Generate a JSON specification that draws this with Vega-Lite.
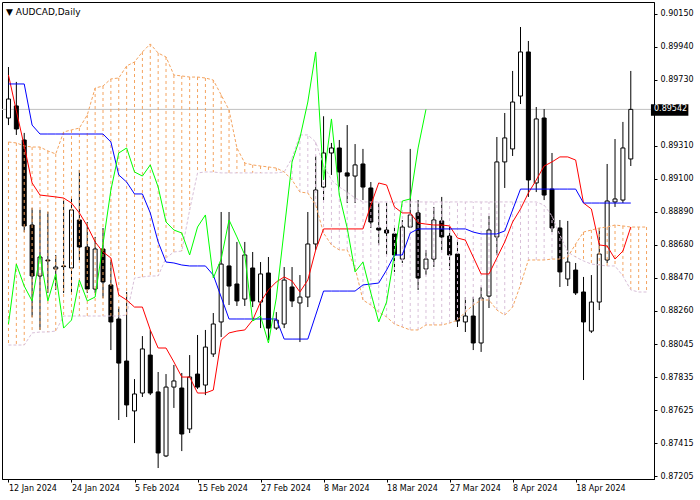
{
"$schema": "https://vega.github.io/schema/vega-lite/v6.json",
"width": 652, "height": 477,
"autosize": {"type": "none"},
"padding": {"left": 2, "top": 2, "right": 46, "bottom": 21},
"background": "white",
"title": {"text": "▼  AUDCAD,Daily", "anchor": "start", "frame": "group", "offset": -15, "dx": 4, "font": "DejaVu Sans", "fontSize": 9, "fontWeight": "normal", "color": "black"},
"config": {"view": {"stroke": "black", "strokeWidth": 1},
  "axis": {"labelFont": "DejaVu Sans", "labelFontSize": 8, "labelColor": "black", "tickColor": "black", "domainColor": "black", "tickSize": 3, "grid": false, "labelOverlap": false}},
"resolve": {"axis": {"x": "independent", "y": "independent"}},
"data": {"values": [
{"i":0,"o":0.89487,"h":0.89812,"l":0.89442,"c":0.89608,"tk":0.89761,"kj":0.89704,"ch":0.88174,"sa":0.89334,"sb":0.88040},
{"i":1,"o":0.89564,"h":0.89717,"l":0.89379,"c":0.89417,"tk":0.89532,"kj":0.89704,"ch":0.88556,"sa":0.89328,"sb":0.88040},
{"i":2,"o":0.89347,"h":0.89392,"l":0.88760,"c":0.88799,"tk":0.89309,"kj":0.89704,"ch":0.88416,"sa":0.89309,"sb":0.88040},
{"i":3,"o":0.88805,"h":0.88913,"l":0.88219,"c":0.88480,"tk":0.89073,"kj":0.89442,"ch":0.88321,"sa":0.89302,"sb":0.88117},
{"i":4,"o":0.88480,"h":0.88901,"l":0.88136,"c":0.88601,"tk":0.88996,"kj":0.89385,"ch":0.88614,"sa":0.89302,"sb":0.88123},
{"i":5,"o":0.88582,"h":0.88888,"l":0.88372,"c":0.88576,"tk":0.88990,"kj":0.89385,"ch":0.88321,"sa":0.89277,"sb":0.88123},
{"i":6,"o":0.88525,"h":0.88614,"l":0.88391,"c":0.88537,"tk":0.88984,"kj":0.89385,"ch":0.88493,"sa":0.89258,"sb":0.88129},
{"i":7,"o":0.88544,"h":0.88964,"l":0.88372,"c":0.88540,"tk":0.88977,"kj":0.89385,"ch":0.88148,"sa":0.89398,"sb":0.88225},
{"i":8,"o":0.88531,"h":0.88984,"l":0.88372,"c":0.88901,"tk":0.88945,"kj":0.89385,"ch":0.88199,"sa":0.89411,"sb":0.88225},
{"i":9,"o":0.88837,"h":0.89156,"l":0.88582,"c":0.88665,"tk":0.88882,"kj":0.89385,"ch":0.88454,"sa":0.89423,"sb":0.88225},
{"i":10,"o":0.88665,"h":0.88824,"l":0.88372,"c":0.88397,"tk":0.88799,"kj":0.89385,"ch":0.88321,"sa":0.89506,"sb":0.88225},
{"i":11,"o":0.88397,"h":0.88729,"l":0.88372,"c":0.88652,"tk":0.88697,"kj":0.89385,"ch":0.88346,"sa":0.89678,"sb":0.88225},
{"i":12,"o":0.88652,"h":0.88786,"l":0.88340,"c":0.88442,"tk":0.88633,"kj":0.89385,"ch":0.88684,"sa":0.89691,"sb":0.88225},
{"i":13,"o":0.88423,"h":0.88582,"l":0.88008,"c":0.88187,"tk":0.88595,"kj":0.89334,"ch":0.89028,"sa":0.89736,"sb":0.88225},
{"i":14,"o":0.88206,"h":0.88282,"l":0.87562,"c":0.87925,"tk":0.88359,"kj":0.89124,"ch":0.89264,"sa":0.89742,"sb":0.88225},
{"i":15,"o":0.87938,"h":0.88378,"l":0.87581,"c":0.87658,"tk":0.88327,"kj":0.89079,"ch":0.89296,"sa":0.89819,"sb":0.88231},
{"i":16,"o":0.87620,"h":0.87823,"l":0.87415,"c":0.87728,"tk":0.88282,"kj":0.89003,"ch":0.89143,"sa":0.89844,"sb":0.88467},
{"i":17,"o":0.87734,"h":0.88097,"l":0.87709,"c":0.88015,"tk":0.88282,"kj":0.89003,"ch":0.89117,"sa":0.89908,"sb":0.88474},
{"i":18,"o":0.87976,"h":0.88136,"l":0.87721,"c":0.87734,"tk":0.88136,"kj":0.88882,"ch":0.89188,"sa":0.89959,"sb":0.88480},
{"i":19,"o":0.87741,"h":0.87868,"l":0.87256,"c":0.87352,"tk":0.88021,"kj":0.88697,"ch":0.89047,"sa":0.89901,"sb":0.88480},
{"i":20,"o":0.87333,"h":0.87855,"l":0.87326,"c":0.87772,"tk":0.88021,"kj":0.88569,"ch":0.88824,"sa":0.89876,"sb":0.88595},
{"i":21,"o":0.87772,"h":0.87913,"l":0.87639,"c":0.87811,"tk":0.87932,"kj":0.88563,"ch":0.88773,"sa":0.89761,"sb":0.88633},
{"i":22,"o":0.87766,"h":0.87862,"l":0.87364,"c":0.87473,"tk":0.87836,"kj":0.88550,"ch":0.88754,"sa":0.89755,"sb":0.88639},
{"i":23,"o":0.87505,"h":0.87976,"l":0.87479,"c":0.87836,"tk":0.87836,"kj":0.88544,"ch":0.88614,"sa":0.89748,"sb":0.88901},
{"i":24,"o":0.87855,"h":0.88104,"l":0.87760,"c":0.87772,"tk":0.87734,"kj":0.88544,"ch":0.88792,"sa":0.89748,"sb":0.89137},
{"i":25,"o":0.87785,"h":0.88136,"l":0.87721,"c":0.88027,"tk":0.87734,"kj":0.88544,"ch":0.88869,"sa":0.89742,"sb":0.89143},
{"i":26,"o":0.87983,"h":0.88244,"l":0.87964,"c":0.88174,"tk":0.87753,"kj":0.88486,"ch":0.88467,"sa":0.89729,"sb":0.89143},
{"i":27,"o":0.88187,"h":0.88888,"l":0.88091,"c":0.88556,"tk":0.88072,"kj":0.88346,"ch":0.88588,"sa":0.89634,"sb":0.89137},
{"i":28,"o":0.88544,"h":0.88888,"l":0.88295,"c":0.88416,"tk":0.88117,"kj":0.88206,"ch":0.88837,"sa":0.89538,"sb":0.89137},
{"i":29,"o":0.88429,"h":0.88697,"l":0.88289,"c":0.88321,"tk":0.88129,"kj":0.88206,"ch":0.88729,"sa":0.89296,"sb":0.89137},
{"i":30,"o":0.88333,"h":0.88697,"l":0.88289,"c":0.88614,"tk":0.88136,"kj":0.88206,"ch":0.88614,"sa":0.89200,"sb":0.89137},
{"i":31,"o":0.88531,"h":0.88633,"l":0.88282,"c":0.88321,"tk":0.88199,"kj":0.88206,"ch":0.88193,"sa":0.89188,"sb":0.89137},
{"i":32,"o":0.88314,"h":0.88569,"l":0.88148,"c":0.88493,"tk":0.88314,"kj":0.88206,"ch":0.88225,"sa":0.89181,"sb":0.89137},
{"i":33,"o":0.88499,"h":0.88601,"l":0.88072,"c":0.88148,"tk":0.88391,"kj":0.88206,"ch":0.88053,"sa":0.89175,"sb":0.89137},
{"i":34,"o":0.88148,"h":0.88250,"l":0.88136,"c":0.88199,"tk":0.88442,"kj":0.88206,"ch":0.88340,"sa":0.89168,"sb":0.89137},
{"i":35,"o":0.88174,"h":0.88537,"l":0.88148,"c":0.88454,"tk":0.88474,"kj":0.88078,"ch":0.88773,"sa":0.89143,"sb":0.89143},
{"i":36,"o":0.88410,"h":0.88537,"l":0.88282,"c":0.88321,"tk":0.88448,"kj":0.88078,"ch":0.89207,"sa":0.89092,"sb":0.89232},
{"i":37,"o":0.88308,"h":0.88486,"l":0.88059,"c":0.88346,"tk":0.88378,"kj":0.88078,"ch":0.89360,"sa":0.89015,"sb":0.89379},
{"i":38,"o":0.88346,"h":0.88888,"l":0.88282,"c":0.88684,"tk":0.88454,"kj":0.88078,"ch":0.89589,"sa":0.89009,"sb":0.89379},
{"i":39,"o":0.88684,"h":0.89245,"l":0.88646,"c":0.89028,"tk":0.88646,"kj":0.88231,"ch":0.89908,"sa":0.88932,"sb":0.89334},
{"i":40,"o":0.89047,"h":0.89498,"l":0.88964,"c":0.89264,"tk":0.88780,"kj":0.88384,"ch":0.89092,"sa":0.88754,"sb":0.89188},
{"i":41,"o":0.89264,"h":0.89328,"l":0.89124,"c":0.89296,"tk":0.88780,"kj":0.88384,"ch":0.89481,"sa":0.88678,"sb":0.89092},
{"i":42,"o":0.89296,"h":0.89347,"l":0.89041,"c":0.89143,"tk":0.88780,"kj":0.88384,"ch":0.88996,"sa":0.88646,"sb":0.89047},
{"i":43,"o":0.89137,"h":0.89442,"l":0.88945,"c":0.89117,"tk":0.88780,"kj":0.88384,"ch":0.88786,"sa":0.88646,"sb":0.89015},
{"i":44,"o":0.89117,"h":0.89321,"l":0.88945,"c":0.89188,"tk":0.88780,"kj":0.88384,"ch":0.88506,"sa":0.88531,"sb":0.88977},
{"i":45,"o":0.89194,"h":0.89290,"l":0.88964,"c":0.89047,"tk":0.88780,"kj":0.88423,"ch":0.88569,"sa":0.88327,"sb":0.88952},
{"i":46,"o":0.89041,"h":0.89079,"l":0.88786,"c":0.88824,"tk":0.88932,"kj":0.88429,"ch":0.88372,"sa":0.88295,"sb":0.88952},
{"i":47,"o":0.88786,"h":0.88945,"l":0.88678,"c":0.88773,"tk":0.89073,"kj":0.88435,"ch":0.88187,"sa":0.88250,"sb":0.88952},
{"i":48,"o":0.88773,"h":0.88945,"l":0.88614,"c":0.88754,"tk":0.89060,"kj":0.88518,"ch":0.88314,"sa":0.88219,"sb":0.88952},
{"i":49,"o":0.88748,"h":0.88792,"l":0.88506,"c":0.88614,"tk":0.88920,"kj":0.88614,"ch":0.88620,"sa":0.88174,"sb":0.88952},
{"i":50,"o":0.88588,"h":0.88837,"l":0.88563,"c":0.88792,"tk":0.88882,"kj":0.88614,"ch":0.88958,"sa":0.88155,"sb":0.88952},
{"i":51,"o":0.88792,"h":0.89290,"l":0.88786,"c":0.88869,"tk":0.88882,"kj":0.88754,"ch":0.88971,"sa":0.88136,"sb":0.88952},
{"i":52,"o":0.88882,"h":0.88964,"l":0.88391,"c":0.88467,"tk":0.88818,"kj":0.88780,"ch":0.89296,"sa":0.88136,"sb":0.88952},
{"i":53,"o":0.88525,"h":0.88646,"l":0.88486,"c":0.88588,"tk":0.88811,"kj":0.88780,"ch":0.89542,"sa":0.88168,"sb":0.88952},
{"i":54,"o":0.88588,"h":0.88920,"l":0.88537,"c":0.88837,"tk":0.88805,"kj":0.88780,"ch":null,"sa":0.88168,"sb":0.88952},
{"i":55,"o":0.88831,"h":0.88984,"l":0.88646,"c":0.88729,"tk":0.88805,"kj":0.88780,"ch":null,"sa":0.88168,"sb":0.88952},
{"i":56,"o":0.88735,"h":0.88792,"l":0.88518,"c":0.88614,"tk":0.88799,"kj":0.88780,"ch":null,"sa":0.88180,"sb":0.88952},
{"i":57,"o":0.88620,"h":0.88709,"l":0.88155,"c":0.88193,"tk":0.88722,"kj":0.88780,"ch":null,"sa":0.88199,"sb":0.88952},
{"i":58,"o":0.88187,"h":0.88346,"l":0.88123,"c":0.88225,"tk":0.88709,"kj":0.88780,"ch":null,"sa":0.88250,"sb":0.88952},
{"i":59,"o":0.88225,"h":0.88346,"l":0.88008,"c":0.88053,"tk":0.88601,"kj":0.88760,"ch":null,"sa":0.88295,"sb":0.88952},
{"i":60,"o":0.88053,"h":0.88410,"l":0.87996,"c":0.88340,"tk":0.88493,"kj":0.88748,"ch":null,"sa":0.88327,"sb":0.88952},
{"i":61,"o":0.88352,"h":0.88862,"l":0.88276,"c":0.88773,"tk":0.88493,"kj":0.88748,"ch":null,"sa":0.88327,"sb":0.88952},
{"i":62,"o":0.88729,"h":0.89366,"l":0.88614,"c":0.89207,"tk":0.88595,"kj":0.88748,"ch":null,"sa":0.88263,"sb":0.88952},
{"i":63,"o":0.89207,"h":0.89519,"l":0.89041,"c":0.89360,"tk":0.88697,"kj":0.88767,"ch":null,"sa":0.88231,"sb":0.88952},
{"i":64,"o":0.89290,"h":0.89787,"l":0.89245,"c":0.89589,"tk":0.88824,"kj":0.88901,"ch":null,"sa":0.88282,"sb":0.88952},
{"i":65,"o":0.89627,"h":0.90067,"l":0.89576,"c":0.89908,"tk":0.88907,"kj":0.89034,"ch":null,"sa":0.88423,"sb":0.88952},
{"i":66,"o":0.89908,"h":0.89978,"l":0.88984,"c":0.89092,"tk":0.89009,"kj":0.89034,"ch":null,"sa":0.88582,"sb":0.88952},
{"i":67,"o":0.89073,"h":0.89557,"l":0.89015,"c":0.89481,"tk":0.89092,"kj":0.89034,"ch":null,"sa":0.88582,"sb":0.88952},
{"i":68,"o":0.89487,"h":0.89544,"l":0.88964,"c":0.88996,"tk":0.89181,"kj":0.89034,"ch":null,"sa":0.88582,"sb":0.88932},
{"i":69,"o":0.89034,"h":0.89264,"l":0.88760,"c":0.88786,"tk":0.89207,"kj":0.89034,"ch":null,"sa":0.88588,"sb":0.88862},
{"i":70,"o":0.88786,"h":0.88837,"l":0.88410,"c":0.88506,"tk":0.89239,"kj":0.89034,"ch":null,"sa":0.88588,"sb":0.88741},
{"i":71,"o":0.88461,"h":0.88831,"l":0.88416,"c":0.88569,"tk":0.89239,"kj":0.89034,"ch":null,"sa":0.88601,"sb":0.88633},
{"i":72,"o":0.88518,"h":0.88563,"l":0.88359,"c":0.88372,"tk":0.89219,"kj":0.89034,"ch":null,"sa":0.88684,"sb":0.88601},
{"i":73,"o":0.88378,"h":0.88474,"l":0.87817,"c":0.88187,"tk":0.88945,"kj":0.88945,"ch":null,"sa":0.88760,"sb":0.88576},
{"i":74,"o":0.88129,"h":0.88486,"l":0.88117,"c":0.88314,"tk":0.88907,"kj":0.88945,"ch":null,"sa":0.88773,"sb":0.88556},
{"i":75,"o":0.88314,"h":0.88786,"l":0.88263,"c":0.88620,"tk":0.88678,"kj":0.88945,"ch":null,"sa":0.88786,"sb":0.88550},
{"i":76,"o":0.88582,"h":0.89194,"l":0.88563,"c":0.88958,"tk":0.88671,"kj":0.88945,"ch":null,"sa":0.88792,"sb":0.88544},
{"i":77,"o":0.88952,"h":0.89353,"l":0.88920,"c":0.88971,"tk":0.88588,"kj":0.88945,"ch":null,"sa":0.88805,"sb":0.88544},
{"i":78,"o":0.88964,"h":0.89462,"l":0.88945,"c":0.89296,"tk":0.88639,"kj":0.88945,"ch":null,"sa":0.88799,"sb":0.88480},
{"i":79,"o":0.89226,"h":0.89787,"l":0.89181,"c":0.89542,"tk":0.88792,"kj":0.88945,"ch":null,"sa":0.88792,"sb":0.88391},
{"i":80,"o":null,"h":null,"l":null,"c":null,"tk":null,"kj":null,"ch":null,"sa":0.88792,"sb":0.88378},
{"i":81,"o":null,"h":null,"l":null,"c":null,"tk":null,"kj":null,"ch":null,"sa":0.88792,"sb":0.88378}
]},
"layer": [
{"data": {"values": [{}]}, "mark": {"type": "rule", "color": "#c0c0c0", "strokeWidth": 1},
 "encoding": {"y": {"datum": 0.89542, "type": "quantitative", "scale": {"domain": [0.871861, 0.902264], "nice": false, "zero": false},
        "axis": {"title": null, "orient": "right", "format": ".5f", "labelPadding": 3, "labelOverlap": false, "labelFlush": false, "labelBound": false,
                 "values": [0.87205, 0.87415, 0.87625, 0.87835, 0.88045, 0.8826, 0.8847, 0.8868, 0.8889, 0.891, 0.8931, 0.8973, 0.8994, 0.9015]}}}},
{"transform": [{"filter": "datum.c != null"}],
 "mark": {"type": "rule", "color": "black", "strokeWidth": 1},
 "encoding": {
  "x": {"field": "i", "type": "quantitative", "scale": {"domain": [-0.1875, 81.3125], "nice": false, "zero": false},
        "axis": {"title": null, "values": [0,8,16,24,32,40,48,56,64,72],
                 "labelExpr": "['12 Jan 2024','24 Jan 2024','5 Feb 2024','15 Feb 2024','27 Feb 2024','8 Mar 2024','18 Mar 2024','27 Mar 2024','8 Apr 2024','18 Apr 2024'][round(datum.value/8)]",
                 "labelAlign": "left", "labelPadding": 2, "labelOverlap": false, "labelFlush": false, "labelBound": false}},
  "y": {"field": "l", "type": "quantitative", "axis": null},
  "y2": {"field": "h"}}},
{"transform": [{"filter": "datum.c != null"}],
 "mark": {"type": "bar", "width": 4, "stroke": "black", "strokeWidth": 1},
 "encoding": {
  "x": {"field": "i", "type": "quantitative", "axis": null},
  "y": {"field": "o", "type": "quantitative", "axis": null},
  "y2": {"field": "c"},
  "fill": {"condition": {"test": "datum.c >= datum.o", "value": "white"}, "value": "black"}}},
{"mark": {"type": "rule", "strokeDash": [3, 3], "strokeWidth": 1},
 "encoding": {
  "x": {"field": "i", "type": "quantitative", "axis": null},
  "y": {"field": "sa", "type": "quantitative", "axis": null},
  "y2": {"field": "sb"},
  "color": {"condition": {"test": "datum.sa >= datum.sb", "value": "#f4a460"}, "value": "#d8bfd8"}}},
{"mark": {"type": "line", "color": "#f4a460", "strokeDash": [3, 2], "strokeWidth": 1},
 "encoding": {"x": {"field": "i", "type": "quantitative", "axis": null}, "y": {"field": "sa", "type": "quantitative", "axis": null}}},
{"mark": {"type": "line", "color": "#d8bfd8", "strokeDash": [3, 2], "strokeWidth": 1},
 "encoding": {"x": {"field": "i", "type": "quantitative", "axis": null}, "y": {"field": "sb", "type": "quantitative", "axis": null}}},
{"transform": [{"filter": "datum.tk != null"}],
 "mark": {"type": "line", "color": "#ff0000", "strokeWidth": 1},
 "encoding": {"x": {"field": "i", "type": "quantitative", "axis": null}, "y": {"field": "tk", "type": "quantitative", "axis": null}}},
{"transform": [{"filter": "datum.kj != null"}],
 "mark": {"type": "line", "color": "#0000ff", "strokeWidth": 1},
 "encoding": {"x": {"field": "i", "type": "quantitative", "axis": null}, "y": {"field": "kj", "type": "quantitative", "axis": null}}},
{"transform": [{"filter": "datum.ch != null"}],
 "mark": {"type": "line", "color": "#00ff00", "strokeWidth": 1},
 "encoding": {"x": {"field": "i", "type": "quantitative", "axis": null}, "y": {"field": "ch", "type": "quantitative", "axis": null}}},
{"data": {"values": [{}]}, "mark": {"type": "rect", "color": "black", "clip": false},
 "encoding": {"x": {"datum": 81.56, "type": "quantitative", "axis": null}, "x2": {"datum": 86.31},
              "y": {"datum": 0.89574, "type": "quantitative", "axis": null}, "y2": {"datum": 0.89502}}},
{"data": {"values": [{}]}, "mark": {"type": "text", "text": "0.89542", "color": "white", "align": "left", "baseline": "middle", "font": "DejaVu Sans", "fontSize": 8, "clip": false},
 "encoding": {"x": {"datum": 81.95, "type": "quantitative", "axis": null}, "y": {"datum": 0.89542, "type": "quantitative", "axis": null}}}
]
}
